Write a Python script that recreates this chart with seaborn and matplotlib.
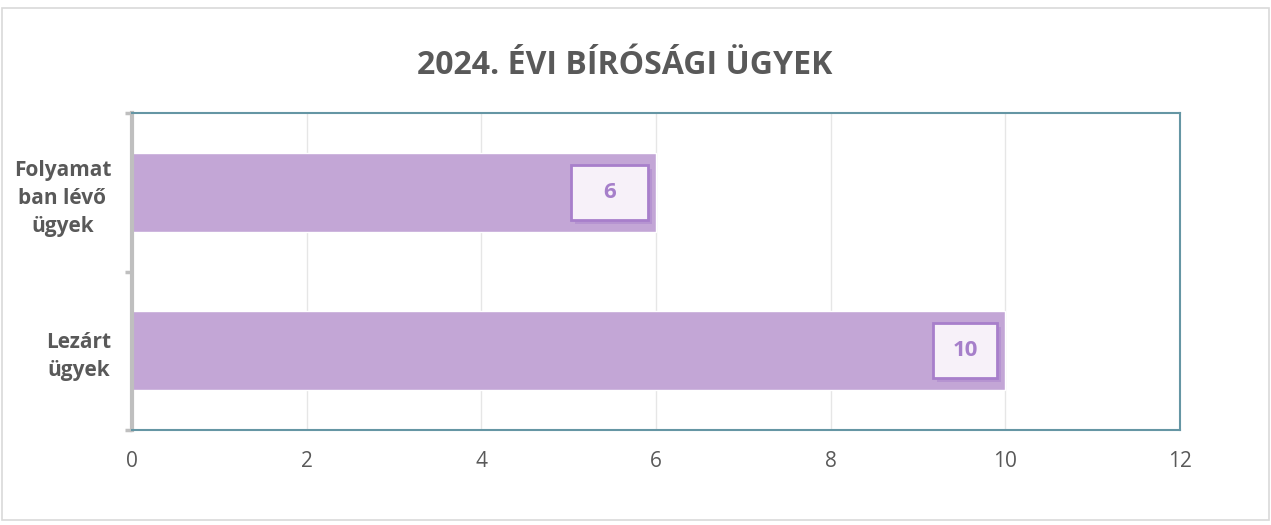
import numpy as np
import pandas as pd
import matplotlib

matplotlib.use('Agg')

import matplotlib.pyplot as plt
import matplotlib.transforms as mtransforms
from matplotlib.patches import Rectangle
import seaborn as sns

sns.set_style("white")
plt.rcParams['font.family'] = ['Open Sans', 'DejaVu Sans']

categories = ["Folyamat\nban lévő\nügyek", "Lezárt\nügyek"]
values = [6, 10]
x_ticks = [0, 2, 4, 6, 8, 10, 12]
title = "2024. ÉVI BÍRÓSÁGI ÜGYEK"

df = pd.DataFrame({'Kategória': categories, 'Ügyek': values})

fig = plt.figure(figsize=(12.71, 5.25), dpi=100)
ax = fig.add_axes([132 / 1271, 1 - 430 / 525, (1180 - 132) / 1271, (430 - 113) / 525])

# light outer frame of the chart area
fig.patches.append(Rectangle((2 / 1271, 5 / 525), 1267 / 1271, 512 / 525,
                             transform=fig.transFigure, fill=False,
                             edgecolor='#d9d9d9', linewidth=1.2))

sns.barplot(data=df, x='Ügyek', y='Kategória', orient='h', color='#c3a6d6',
            saturation=1, width=0.5, ax=ax)

ax.set_xlim(0, 12)
ax.set_ylim(1.5, -0.5)
ax.set_xticks(x_ticks)
ax.set_xticklabels([str(t) for t in x_ticks], fontsize=15, color='#595959')
ax.tick_params(axis='x', length=0, pad=15)
ax.grid(axis='x', color='#e6e6e6', linewidth=1)
ax.set_axisbelow(True)
ax.set_xlabel('')
ax.set_ylabel('')

# category labels
ax.set_yticks([0, 1])
ax.set_yticklabels(categories, fontsize=15, fontweight='bold', color='#595959',
                   multialignment='center', linespacing=1.45)
ax.tick_params(axis='y', which='major', length=0, pad=15)
ax.set_yticks([-0.5, 0.5, 1.5], minor=True)
ax.tick_params(axis='y', which='minor', left=True, length=5, width=2.5,
               color='#bfbfbf', direction='out')

for side in ['top', 'right', 'bottom']:
    ax.spines[side].set_color('#6596a4')
    ax.spines[side].set_linewidth(1.5)
ax.spines['left'].set_color('#bfbfbf')
ax.spines['left'].set_linewidth(3)

# value boxes (right edge ~8 px inside the bar end)
box_w = [0.77, 0.64]
box_h = 0.55
for i, v in enumerate(values):
    anchor = mtransforms.ScaledTranslation(v, i, ax.transData)
    tr = fig.dpi_scale_trans + anchor
    x0 = -0.08 - box_w[i]
    shadow = Rectangle((x0 + 0.04, -box_h / 2 - 0.04), box_w[i], box_h, transform=tr,
                       facecolor='#a87fcb', edgecolor='none', alpha=0.45, zorder=4)
    box = Rectangle((x0, -box_h / 2), box_w[i], box_h, transform=tr,
                    facecolor='#f7f1f9', edgecolor='#a87fcb', linewidth=2, zorder=5)
    ax.add_patch(shadow)
    ax.add_patch(box)
    ax.annotate(str(v), xy=(v, i), xytext=(x0 * 72 + box_w[i] * 36, 0),
                textcoords='offset points', ha='center', va='center',
                fontsize=16, fontweight='bold', color='#a67fca', zorder=6)

fig.text(625 / 1271, 1 - 65 / 525, title, ha='center', va='center', fontsize=23,
         fontweight='bold', color='#595959')

plt.savefig("out.png", dpi=100)
